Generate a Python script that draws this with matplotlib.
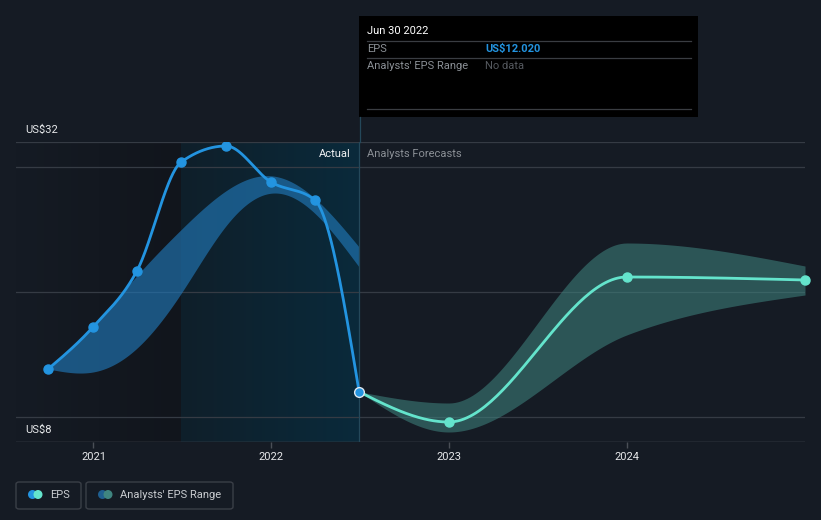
import numpy as np
import pandas as pd
import matplotlib
matplotlib.use("Agg")
import matplotlib.pyplot as plt
import matplotlib.dates as mdates
from matplotlib.patches import Rectangle, FancyBboxPatch, Ellipse
from matplotlib.lines import Line2D
from matplotlib.colors import LinearSegmentedColormap

plt.rcParams['font.family'] = ['Roboto', 'DejaVu Sans']

# ---------------- data ----------------
actual_dates = ["2020-09-30", "2020-12-31", "2021-03-31", "2021-06-30",
                "2021-09-30", "2021-12-31", "2022-03-31", "2022-06-30"]
actual_eps = [13.84, 17.2, 21.68, 30.4, 31.68, 28.8, 27.36, 12.02]

past_range_low = [13.84, 13.6, 15.5, 19.9, 25.3, 27.9, 26.3, 22.0]
past_range_high = [13.84, 17.3, 21.3, 25.0, 28.1, 29.3, 27.5, 23.6]

forecast_dates = ["2022-06-30", "2022-12-31", "2023-12-31", "2024-12-31"]
forecast_eps = [12.02, 9.6, 21.2, 20.96]
forecast_low = [12.02, 8.8, 16.56, 19.76]
forecast_high = [12.02, 11.12, 23.92, 22.08]

y_ticks = [8, 10, 20, 30, 32]
y_labels = {32: "US$32", 8: "US$8"}
x_tick_years = ["2021", "2022", "2023", "2024"]

# ---------------- helpers ----------------
W, H = 821, 520
PX_PER_DAY = 178 / 365.25


def fx(x):
    return x / W


def fy(y):
    return 1 - y / H


def hermite(x, y, m, n=60):
    h = np.diff(x)
    xs, ys = [], []
    for k in range(len(h)):
        t = np.linspace(0, 1, n)
        h00 = 2 * t**3 - 3 * t**2 + 1
        h10 = t**3 - 2 * t**2 + t
        h01 = -2 * t**3 + 3 * t**2
        h11 = t**3 - t**2
        xs.append(x[k] + t * h[k])
        ys.append(h00 * y[k] + h10 * h[k] * m[k] + h01 * y[k + 1] + h11 * h[k] * m[k + 1])
    return np.concatenate(xs), np.concatenate(ys)


def monotone(x, y):
    x = np.asarray(x, float)
    y = np.asarray(y, float)
    h = np.diff(x)
    s = np.diff(y) / h
    m = np.zeros_like(y)
    for k in range(1, len(y) - 1):
        s0, s1, h0, h1 = s[k - 1], s[k], h[k - 1], h[k]
        p = (s0 * h1 + s1 * h0) / (h0 + h1)
        m[k] = (np.sign(s0) + np.sign(s1)) * min(abs(s0), abs(s1), 0.5 * abs(p))
    m[0] = (3 * s[0] - m[1]) / 2
    m[-1] = (3 * s[-1] - m[-2]) / 2
    return hermite(x, y, m)


def natural(x, y):
    x = np.asarray(x, float)
    y = np.asarray(y, float)
    n = len(x)
    h = np.diff(x)
    A = np.zeros((n, n))
    b = np.zeros(n)
    A[0, 0] = 2 / h[0]; A[0, 1] = 1 / h[0]
    b[0] = 3 * (y[1] - y[0]) / h[0] ** 2
    A[-1, -2] = 1 / h[-1]; A[-1, -1] = 2 / h[-1]
    b[-1] = 3 * (y[-1] - y[-2]) / h[-1] ** 2
    for i in range(1, n - 1):
        A[i, i - 1] = 1 / h[i - 1]
        A[i, i] = 2 * (1 / h[i - 1] + 1 / h[i])
        A[i, i + 1] = 1 / h[i]
        b[i] = 3 * ((y[i] - y[i - 1]) / h[i - 1] ** 2 + (y[i + 1] - y[i]) / h[i] ** 2)
    m = np.linalg.solve(A, b)
    return hermite(x, y, m)


ad = mdates.date2num(pd.to_datetime(actual_dates))
fd = mdates.date2num(pd.to_datetime(forecast_dates))

BG = "#151b24"
fig = plt.figure(figsize=(W / 100, H / 100), dpi=100, facecolor=BG)
ax = fig.add_axes([fx(16), fy(442), fx(805) - fx(16), fy(142) - fy(442)])
ax.set_facecolor(BG)

x_left = mdates.date2num(pd.Timestamp("2020-07-26"))
x_right = mdates.date2num(pd.Timestamp("2024-12-31"))

# background regions
now = ad[-1]
split = ad[3]
grad = np.linspace(0, 1, 256).reshape(1, -1)
cm_left = LinearSegmentedColormap.from_list("l", [BG, "#11151c"])
ax.imshow(grad, extent=[x_left, split, 8, 32], aspect="auto", cmap=cm_left, zorder=0)
cm_hl = LinearSegmentedColormap.from_list("h", ["#0f1f2a", "#0a2a3b"])
ax.imshow(grad, extent=[split, now, 8, 32], aspect="auto", cmap=cm_hl, zorder=0)
ax.set_xlim(x_left, x_right)
ax.set_ylim(8, 32)

for yt in y_ticks:
    ax.axhline(yt, color="#353b44", lw=0.9, zorder=1)
ax.axhline(8, color="#454a52", lw=1.0, zorder=1)

# past range band
bx, bl = natural(ad, past_range_low)
_, bh = natural(ad, past_range_high)
ax.fill_between(bx, bl, bh, color="#2178b8", alpha=0.64, lw=0, zorder=2)

# forecast band
fbx, fbl = monotone(fd, forecast_low)
_, fbh = monotone(fd, forecast_high)
ax.fill_between(fbx, fbl, fbh, color="#3f8580", alpha=0.55, lw=0, zorder=2)

# lines
lx, ly = monotone(ad, actual_eps)
ax.plot(lx, ly, color="#2394e0", lw=2.0, zorder=4, solid_capstyle="round")
ax.plot(ad[:-1], actual_eps[:-1], "o", color="#2394e0", ms=6.5, zorder=5)

flx, fly = monotone(fd, forecast_eps)
ax.plot(flx, fly, color="#64e4cc", lw=2.0, zorder=4, solid_capstyle="round")
ax.plot(fd[1:], forecast_eps[1:], "o", color="#64e4cc", ms=6.5, zorder=5, clip_on=False)
ax.plot([ad[-1]], [actual_eps[-1]], "o", color="#2394e0", ms=7, mec="#dfe8f0",
        mew=1.0, zorder=6)

# vertical now line
ax.axvline(now, color="#24485a", lw=0.9, zorder=3)
fig.add_artist(Line2D([fx(359.5), fx(359.5)], [fy(117), fy(142)], color="#24485a",
                      lw=0.9, transform=fig.transFigure))

for s in ax.spines.values():
    s.set_visible(False)
ax.set_yticks([])
xt = mdates.date2num(pd.to_datetime([y + "-01-01" for y in x_tick_years]))
ax.set_xticks(xt)
ax.set_xticklabels(x_tick_years)
ax.tick_params(axis="x", colors="#4a4f57", length=4, width=1, labelcolor="#e6e8ea",
               labelsize=8, pad=3)

# y labels
for v, lab in y_labels.items():
    fig.text(fx(25), fy(442 - (v - 8) * 12.5 - 12), lab, color="#e6e8ea", fontsize=8,
             ha="left", va="center")

off = 8 / PX_PER_DAY
ax.text(now - off, 31.0, "Actual", color="#f0f2f4", fontsize=8, ha="right", va="center", zorder=7)
ax.text(now + off, 31.0, "Analysts Forecasts", color="#8b9096", fontsize=8, ha="left",
        va="center", zorder=7)

# tooltip
fig.add_artist(Rectangle((fx(359), fy(117)), fx(698) - fx(359), fy(16) - fy(117),
                         transform=fig.transFigure, facecolor="#000000", edgecolor="none"))
for yl in (41, 58, 109):
    fig.add_artist(Line2D([fx(367), fx(691)], [fy(yl), fy(yl)], color="#3a3d42", lw=0.9,
                          transform=fig.transFigure))
fig.text(fx(367), fy(31), "Jun 30 2022", color="#ffffff", fontsize=8, va="center")
fig.text(fx(367), fy(49), "EPS", color="#8b9096", fontsize=8, va="center")
fig.text(fx(485), fy(49), "US$12.020", color="#2394e0", fontsize=8, va="center",
         fontweight="bold")
fig.text(fx(367), fy(66), "Analysts' EPS Range", color="#8b9096", fontsize=8, va="center")
fig.text(fx(485), fy(66), "No data", color="#55595f", fontsize=8, va="center")


# legend
def legend_box(x0, x1, label, c1, c2, tx):
    fig.add_artist(FancyBboxPatch((fx(x0), fy(509)), fx(x1) - fx(x0), fy(482) - fy(509),
                                  boxstyle="round,pad=0,rounding_size=0.004",
                                  transform=fig.transFigure, facecolor="none",
                                  edgecolor="#3a3f47", lw=1.0))
    cy = 494.5
    d = 9.0
    fig.add_artist(Ellipse((fx(x0 + 16.5), fy(cy)), d / W, d / H, transform=fig.transFigure,
                           facecolor=c1, edgecolor="none"))
    fig.add_artist(Ellipse((fx(x0 + 22), fy(cy)), d / W, d / H, transform=fig.transFigure,
                           facecolor=c2, edgecolor="none"))
    fig.text(fx(tx), fy(cy), label, color="#c9ccd0", fontsize=8, va="center")


legend_box(16, 81, "EPS", "#2394e0", "#64e4cc", 50)
legend_box(86, 233, "Analysts' EPS Range", "#1f5f90", "#3f8580", 120)

fig.savefig("out.png", dpi=100, facecolor=BG)
